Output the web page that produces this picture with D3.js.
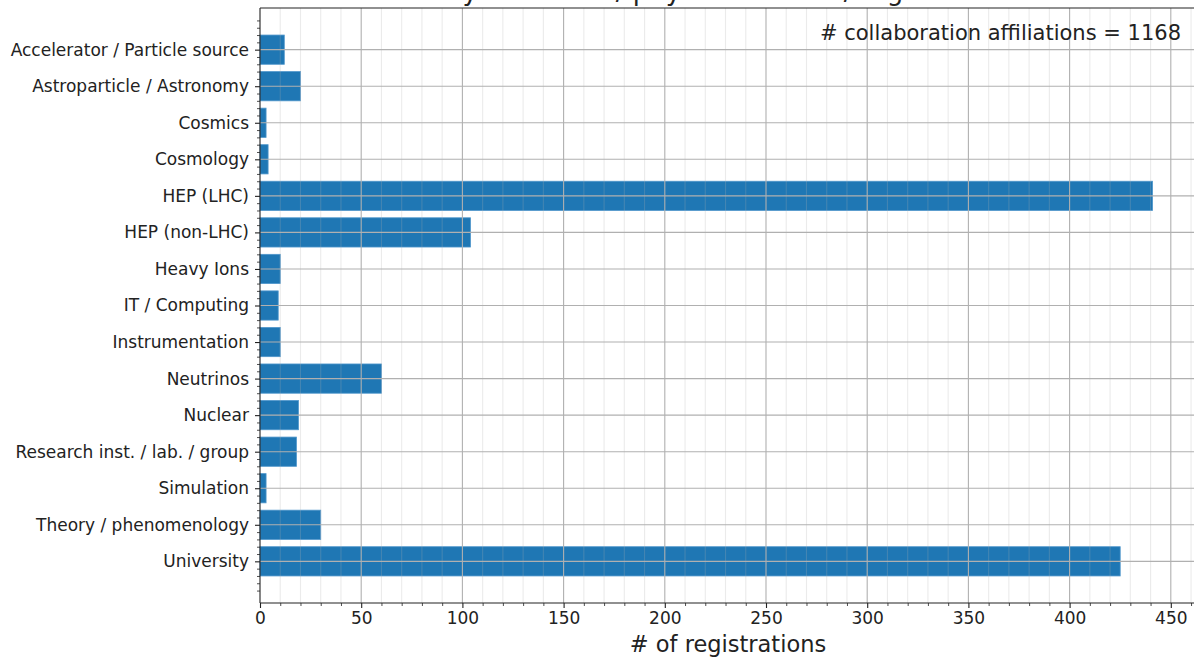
<!DOCTYPE html>
<html>
<head>
<meta charset="utf-8">
<script src="https://cdn.jsdelivr.net/npm/d3@7"></script>
<style>
body { margin: 0; background: #fff; }
text { font-family: "DejaVu Sans", sans-serif; }
</style>
</head>
<body>
<div id="chart_id"></div>
<script>
// data
const categories = ["Accelerator / Particle source", "Astroparticle / Astronomy", "Cosmics", "Cosmology",
	"HEP (LHC)", "HEP (non-LHC)", "Heavy Ions", "IT / Computing", "Instrumentation", "Neutrinos",
	"Nuclear", "Research inst. / lab. / group", "Simulation", "Theory / phenomenology", "University"]
const registrations = [12, 20, 3, 4, 441, 104, 10, 9, 10, 60, 19, 18, 3, 30, 425]
const x_ticks = [0, 50, 100, 150, 200, 250, 300, 350, 400, 450]
const title_text = "Collaborations by affiliation / physics domain / organisation"
const x_label = "# of registrations"
const total_label = "# collaboration affiliations = " + d3.sum(registrations)

const width = 1194
const height = 657
const ax_left = 260
const ax_top = 8
const ax_bottom = 603
const bar_color = "#1f77b4"
const grid_color = "#b0b0b0"
const tick_font = 17

svg = d3.select("#chart_id")
	.append("svg")
	.attr("width", width)
	.attr("height", height)

// matplotlib style limits: 5% margin on the right, bars of 0.8
x_max = d3.max(registrations) * 1.05
var x = d3.scaleLinear()
	.domain([0, x_max])
	.range([ax_left, ax_left + x_max * 2.024])
var y = d3.scaleLinear()
	.domain([-1.14, categories.length - 1 + 1.14])
	.range([ax_top, ax_bottom])
bar_h = y(0.4) - y(-0.4)

// bars
svg.selectAll(".bar")
	.data(registrations)
	.enter()
	.append("rect")
	.attr("class", "bar")
	.attr("x", x(0))
	.attr("y", (d, i) => y(i) - bar_h / 2)
	.attr("width", d => x(d) - x(0))
	.attr("height", bar_h)
	.attr("fill", bar_color)
	.attr("stroke", "#4f96cb")
	.attr("stroke-width", 0.8)

// minor vertical grid every 10
minor_x = d3.range(10, x_max, 10).filter(v => v % 50 != 0)
svg.selectAll(".minor_grid")
	.data(minor_x)
	.enter()
	.append("line")
	.attr("class", "minor_grid")
	.attr("x1", d => x(d)).attr("x2", d => x(d))
	.attr("y1", ax_top).attr("y2", ax_bottom)
	.attr("stroke", grid_color)
	.attr("stroke-opacity", 0.25)
	.attr("stroke-width", 1.1)

// major grid
svg.selectAll(".major_grid_x")
	.data(x_ticks.slice(1))
	.enter()
	.append("line")
	.attr("x1", d => x(d)).attr("x2", d => x(d))
	.attr("y1", ax_top).attr("y2", ax_bottom)
	.attr("stroke", grid_color)
	.attr("stroke-width", 1.1)
svg.selectAll(".major_grid_y")
	.data(categories)
	.enter()
	.append("line")
	.attr("x1", ax_left).attr("x2", width)
	.attr("y1", (d, i) => y(i)).attr("y2", (d, i) => y(i))
	.attr("stroke", grid_color)
	.attr("stroke-width", 1.1)

// x axis
var x_axis = d3.axisBottom(x)
	.tickValues(x_ticks)
	.tickSize(5)
	.tickPadding(4)
	.tickFormat(d3.format("d"))
gx = svg.append("g")
	.attr("transform", "translate(0," + ax_bottom + ")")
	.call(x_axis)
gx.select(".domain").remove()
gx.selectAll("text").attr("font-size", tick_font).attr("fill", "#222").attr("font-family", "DejaVu Sans")
gx.selectAll("line").attr("stroke", "#222").attr("stroke-width", 1.1)

svg.append("g")
	.attr("transform", "translate(0," + ax_bottom + ")")
	.call(d3.axisBottom(x).tickValues(minor_x).tickSize(3).tickFormat(""))
	.call(g => g.select(".domain").remove())
	.selectAll("line").attr("stroke", "#222").attr("stroke-width", 0.8)

// y axis
var y_axis = d3.axisLeft(y)
	.tickValues(d3.range(categories.length))
	.tickSize(5)
	.tickPadding(6)
	.tickFormat(i => categories[i])
gy = svg.append("g")
	.attr("transform", "translate(" + ax_left + ",0)")
	.call(y_axis)
gy.select(".domain").remove()
gy.selectAll("text").attr("font-size", tick_font).attr("fill", "#222").attr("font-family", "DejaVu Sans")
gy.selectAll("line").attr("stroke", "#222").attr("stroke-width", 1.1)

minor_y = d3.range(-5, 5 * categories.length + 1).map(v => v / 5).filter(v => Math.abs(v - Math.round(v)) > 0.01)
svg.append("g")
	.attr("transform", "translate(" + ax_left + ",0)")
	.call(d3.axisLeft(y).tickValues(minor_y).tickSize(3).tickFormat(""))
	.call(g => g.select(".domain").remove())
	.selectAll("line").attr("stroke", "#222").attr("stroke-width", 0.8)

// spines
svg.append("line")
	.attr("x1", ax_left).attr("x2", ax_left)
	.attr("y1", ax_top).attr("y2", ax_bottom)
	.attr("stroke", "#222").attr("stroke-width", 1.1)
svg.append("line")
	.attr("x1", ax_left).attr("x2", width)
	.attr("y1", ax_bottom).attr("y2", ax_bottom)
	.attr("stroke", "#222").attr("stroke-width", 1.1)
svg.append("line")
	.attr("x1", ax_left).attr("x2", width)
	.attr("y1", ax_top).attr("y2", ax_top)
	.attr("stroke", "#222").attr("stroke-width", 1.1)

// title: only its lowest part falls inside the picture, as in the reference
svg.append("text")
	.attr("x", 251)
	.attr("y", 0)
	.attr("font-size", 26)
	.attr("fill", "#222")
	.text(title_text)

svg.append("text")
	.attr("x", 1181)
	.attr("y", 40)
	.attr("text-anchor", "end")
	.attr("font-size", 21)
	.attr("fill", "#222")
	.text(total_label)

svg.append("text")
	.attr("x", 728)
	.attr("y", 652)
	.attr("text-anchor", "middle")
	.attr("font-size", 22.5)
	.attr("fill", "#222")
	.text(x_label)
</script>
</body>
</html>
